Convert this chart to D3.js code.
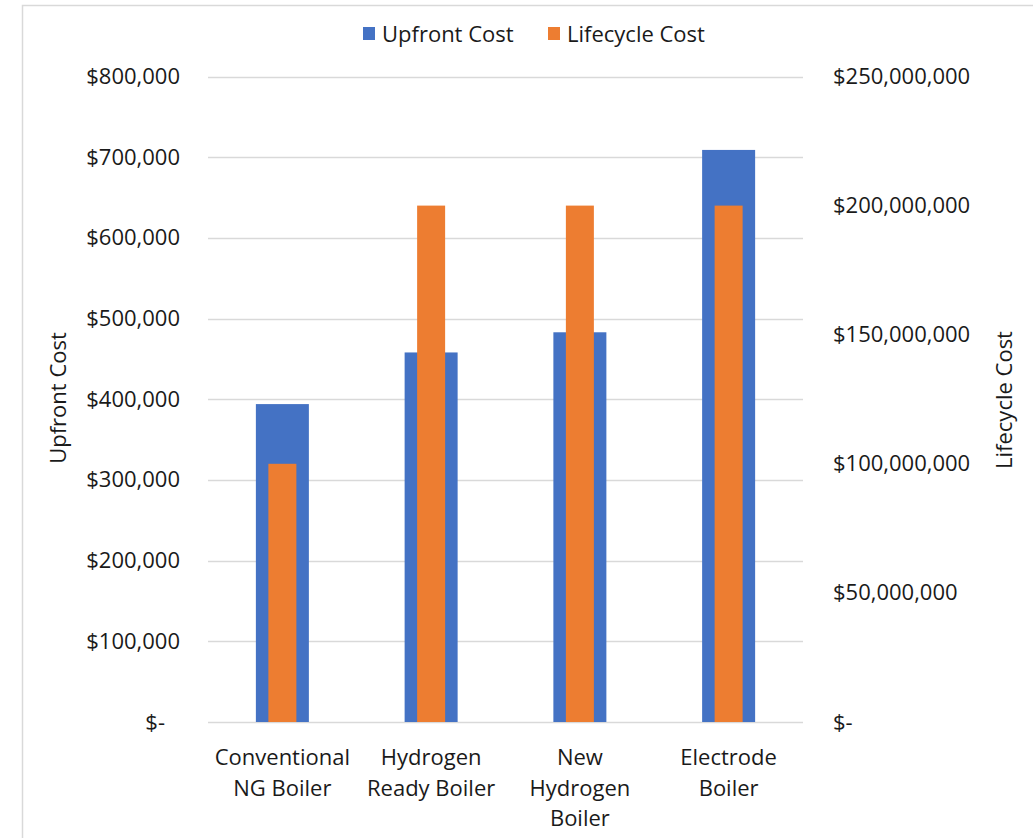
<!DOCTYPE html>
<html>
<head>
<meta charset="utf-8">
<script src="https://cdn.jsdelivr.net/npm/d3@7"></script>
<style>
  html, body { margin: 0; padding: 0; background: #fff; }
  svg text { font-family: "Open Sans", "Liberation Sans", sans-serif; fill: #1a1a1a; }
</style>
</head>
<body>
<svg id="chart" width="1033" height="838"></svg>
<script>
// Boiler options and their costs
const categories = [
  ["Conventional", "NG Boiler"],
  ["Hydrogen", "Ready Boiler"],
  ["New", "Hydrogen", "Boiler"],
  ["Electrode", "Boiler"]
];
const upfrontCost = [394000, 458000, 483000, 709000];
const lifecycleCost = [100000000, 200000000, 200000000, 200000000];
const upfrontTicks = [0, 100000, 200000, 300000, 400000, 500000, 600000, 700000, 800000];
const lifecycleTicks = [0, 50000000, 100000000, 150000000, 200000000, 250000000];
const seriesNames = ["Upfront Cost", "Lifecycle Cost"];
const colors = ["#4472C4", "#ED7D31"];

const svg = d3.select("#chart");
const plot = { left: 208, right: 803, top: 76.5, bottom: 722 };
const fontSize = 22;

// chart frame
svg.append("rect")
  .attr("x", 22.5).attr("y", 5.5)
  .attr("width", 1100).attr("height", 900)
  .attr("fill", "none").attr("stroke", "#D9D9D9").attr("stroke-width", 1.5);

const x = d3.scaleBand()
  .domain(d3.range(categories.length))
  .range([plot.left, plot.right]);

const yLeft = d3.scaleLinear().domain([0, 800000]).range([plot.bottom, plot.top]);
const yRight = d3.scaleLinear().domain([0, 250000000]).range([plot.bottom, plot.top]);

const money = d => d === 0 ? "$-" : "$" + d3.format(",")(d);

// gridlines
svg.append("g").selectAll("line")
  .data(upfrontTicks)
  .join("line")
  .attr("x1", plot.left).attr("x2", plot.right)
  .attr("y1", d => Math.round(yLeft(d)) + 0.5)
  .attr("y2", d => Math.round(yLeft(d)) + 0.5)
  .attr("stroke", "#D9D9D9").attr("stroke-width", 1.3);

// left axis labels
const leftAxis = d3.axisLeft(yLeft).tickValues(upfrontTicks).tickFormat(money).tickSize(0).tickPadding(0);
const gl = svg.append("g").attr("transform", "translate(180,0)").call(leftAxis);
gl.select(".domain").remove();
gl.selectAll("text")
  .attr("font-size", fontSize)
  .attr("font-family", null)
  .attr("dx", d => d === 0 ? -15 : 0);

// right axis labels
const rightAxis = d3.axisRight(yRight).tickValues(lifecycleTicks).tickFormat(money).tickSize(0).tickPadding(0);
const gr = svg.append("g").attr("transform", "translate(833,0)").call(rightAxis);
gr.select(".domain").remove();
gr.selectAll("text").attr("font-size", fontSize).attr("font-family", null);

// upfront cost bars (wide)
const wideW = 53, narrowW = 28;
svg.append("g").selectAll("rect")
  .data(upfrontCost)
  .join("rect")
  .attr("x", (d, i) => x(i) + x.bandwidth() / 2 - wideW / 2)
  .attr("width", wideW)
  .attr("y", d => yLeft(d))
  .attr("height", d => yLeft(0) - yLeft(d))
  .attr("fill", colors[0]);

// lifecycle cost bars (narrow, secondary axis)
svg.append("g").selectAll("rect")
  .data(lifecycleCost)
  .join("rect")
  .attr("x", (d, i) => x(i) + x.bandwidth() / 2 - narrowW / 2)
  .attr("width", narrowW)
  .attr("y", d => yRight(d))
  .attr("height", d => yRight(0) - yRight(d))
  .attr("fill", colors[1]);

// category labels
const catG = svg.append("g");
categories.forEach((lines, i) => {
  const t = catG.append("text")
    .attr("text-anchor", "middle")
    .attr("font-size", fontSize)
    .attr("x", x(i) + x.bandwidth() / 2)
    .attr("y", 765);
  lines.forEach((ln, j) => {
    t.append("tspan")
      .attr("x", x(i) + x.bandwidth() / 2)
      .attr("dy", j === 0 ? 0 : 30.5)
      .text(ln);
  });
});

// axis titles
svg.append("text")
  .attr("transform", "translate(66,398) rotate(-90)")
  .attr("text-anchor", "middle")
  .attr("font-size", fontSize)
  .text("Upfront Cost");
svg.append("text")
  .attr("transform", "translate(1012,400) rotate(-90)")
  .attr("text-anchor", "middle")
  .attr("font-size", fontSize)
  .text("Lifecycle Cost");

// legend
const legendX = [363, 548];
const lg = svg.append("g");
seriesNames.forEach((name, i) => {
  lg.append("rect")
    .attr("x", legendX[i]).attr("y", 27)
    .attr("width", 12).attr("height", 13)
    .attr("fill", colors[i]);
  lg.append("text")
    .attr("x", legendX[i] + 19).attr("y", 42)
    .attr("font-size", fontSize)
    .text(name);
});
</script>
</body>
</html>
